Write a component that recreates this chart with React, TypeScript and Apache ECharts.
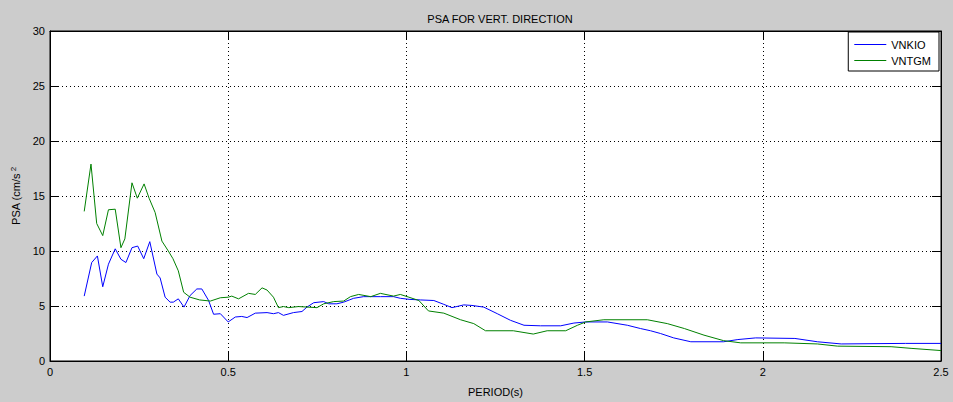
import React, { useEffect, useRef } from "react";
import * as echarts from "echarts";

const titleText = "PSA FOR VERT. DIRECTION";
const xAxisName = "PERIOD(s)";
const seriesNames = ["VNKIO", "VNTGM"];
const xTicks = { min: 0, max: 2.5, interval: 0.5 };
const yTicks = { min: 0, max: 30, interval: 5 };

const vnkioPeriod = [
  0.096, 0.117, 0.133, 0.148, 0.164, 0.183, 0.199, 0.213, 0.23, 0.246, 0.263, 0.28, 0.3, 0.309,
  0.323, 0.337, 0.346, 0.36, 0.376, 0.393, 0.412, 0.426, 0.445, 0.459, 0.478, 0.5, 0.52, 0.538,
  0.553, 0.576, 0.609, 0.627, 0.641, 0.655, 0.683, 0.707, 0.721, 0.74, 0.768, 0.782, 0.805, 0.824,
  0.852, 0.88, 0.927, 0.964, 0.983, 1.01, 1.04, 1.077, 1.105, 1.128, 1.161, 1.184, 1.217, 1.255,
  1.292, 1.33, 1.376, 1.433, 1.47, 1.503, 1.564, 1.62, 1.657, 1.685, 1.713, 1.75, 1.798, 1.89,
  1.93, 1.98, 2.09, 2.153, 2.22, 2.4, 2.5,
];
const vnkioPsa = [
  5.9, 8.95, 9.55, 6.75, 8.8, 10.2, 9.25, 8.95, 10.3, 10.45, 9.3, 10.85, 7.9, 7.55,
  5.8, 5.35, 5.35, 5.65, 4.9, 5.95, 6.55, 6.55, 5.5, 4.25, 4.3, 3.55, 4.0, 4.05,
  3.95, 4.35, 4.4, 4.3, 4.4, 4.15, 4.4, 4.5, 4.9, 5.3, 5.4, 5.2, 5.2, 5.35,
  5.7, 5.85, 5.85, 5.85, 5.7, 5.6, 5.55, 5.5, 5.15, 4.85, 5.1, 5.05, 4.9, 4.3,
  3.7, 3.25, 3.2, 3.2, 3.45, 3.55, 3.55, 3.25, 2.95, 2.75, 2.5, 2.1, 1.75, 1.75,
  1.95, 2.1, 2.05, 1.75, 1.55, 1.6, 1.6,
];

const vntgmPeriod = [
  0.096, 0.115, 0.131, 0.148, 0.164, 0.183, 0.199, 0.21, 0.23, 0.245, 0.264, 0.278, 0.295, 0.314,
  0.332, 0.345, 0.36, 0.375, 0.393, 0.42, 0.45, 0.478, 0.5, 0.51, 0.529, 0.557, 0.576, 0.595,
  0.609, 0.627, 0.641, 0.655, 0.67, 0.697, 0.749, 0.768, 0.796, 0.824, 0.843, 0.866, 0.9, 0.927,
  0.964, 0.983, 1.007, 1.035, 1.062, 1.105, 1.152, 1.189, 1.222, 1.3, 1.356, 1.395, 1.447, 1.48,
  1.503, 1.554, 1.676, 1.732, 1.78, 1.835, 1.89, 1.938, 2.06, 2.153, 2.21, 2.36, 2.416, 2.5,
];
const vntgmPsa = [
  13.6, 17.9, 12.5, 11.4, 13.75, 13.8, 10.3, 11.1, 16.2, 14.8, 16.1, 14.8, 13.5, 10.9,
  10.0, 9.3, 8.2, 6.25, 5.8, 5.55, 5.45, 5.75, 5.8, 5.9, 5.65, 6.15, 6.05, 6.65,
  6.45, 5.8, 4.85, 4.95, 4.85, 4.95, 4.85, 5.2, 5.4, 5.45, 5.85, 6.05, 5.85, 6.15,
  5.9, 6.05, 5.8, 5.5, 4.55, 4.35, 3.75, 3.4, 2.75, 2.75, 2.45, 2.75, 2.75, 3.25,
  3.55, 3.75, 3.75, 3.4, 2.95, 2.35, 1.85, 1.65, 1.65, 1.55, 1.35, 1.3, 1.15, 0.95,
];

const FONT = "Liberation Sans";
const LINE_ICON = "path://M0,0L32,0L32,1L0,1Z";

export default function App() {
  const ref = useRef<HTMLDivElement>(null);
  useEffect(() => {
    if (!ref.current) return;
    const chart = echarts.init(ref.current, undefined, { renderer: "svg" });
    const tickStyle = { inside: true, length: 9, lineStyle: { color: "#000", width: 1 } };
    const axisLine = { show: true, onZero: false, lineStyle: { color: "#000", width: 1 } };
    const grid = { type: [1, 3] as any, color: "#000", width: 1 };
    chart.setOption({
      animation: false,
      backgroundColor: "#cccccc",
      title: {
        text: titleText,
        left: 495,
        top: 8,
        textAlign: "center",
        textStyle: { fontFamily: FONT, fontSize: 11, fontWeight: "normal", color: "#000" },
      },
      legend: {
        data: seriesNames.map((n) => ({ name: n, icon: LINE_ICON })),
        orient: "vertical",
        right: 14,
        top: 32,
        backgroundColor: "#fff",
        borderColor: "#000",
        borderWidth: 1,
        borderRadius: 0,
        padding: [7, 8, 5, 6],
        itemWidth: 32,
        itemHeight: 14,
        itemGap: 5,
        symbolKeepAspect: true,
        itemStyle: { borderWidth: 0 },
        textStyle: { fontFamily: FONT, fontSize: 11, color: "#000" },
      },
      grid: { left: 50, right: 12, top: 31, bottom: 41, show: true, backgroundColor: "#fff", borderColor: "#000", borderWidth: 1 },
      xAxis: [
        {
          type: "value",
          ...xTicks,
          position: "bottom",
          name: xAxisName,
          nameLocation: "middle",
          nameGap: 25,
          nameTextStyle: { fontFamily: FONT, fontSize: 11, color: "#000" },
          axisLine,
          axisTick: tickStyle,
          axisLabel: { fontFamily: FONT, fontSize: 11, color: "#000", margin: 5 },
          splitLine: { show: true, lineStyle: grid },
        },
        {
          type: "value",
          ...xTicks,
          position: "top",
          axisLine,
          axisTick: tickStyle,
          axisLabel: { show: false },
          splitLine: { show: false },
        },
      ],
      yAxis: [
        {
          type: "value",
          ...yTicks,
          position: "left",
          name: "PSA (cm/s{sup|2}",
          nameLocation: "middle",
          nameGap: 27,
          nameTextStyle: {
            fontFamily: FONT,
            fontSize: 11,
            color: "#000",
            rich: { sup: { fontFamily: FONT, fontSize: 8, color: "#000", verticalAlign: "top", padding: [0, 0, 6, 2] } },
          },
          axisLine,
          axisTick: tickStyle,
          axisLabel: { fontFamily: FONT, fontSize: 11, color: "#000", margin: 5 },
          splitLine: { show: true, lineStyle: grid },
        },
        {
          type: "value",
          ...yTicks,
          position: "right",
          axisLine,
          axisTick: tickStyle,
          axisLabel: { show: false },
          splitLine: { show: false },
        },
      ],
      series: [
        {
          name: seriesNames[0],
          type: "line",
          symbol: "none",
          data: vnkioPeriod.map((p, i) => [p, vnkioPsa[i]]),
          lineStyle: { color: "#0000ff", width: 1 },
          itemStyle: { color: "#0000ff" },
        },
        {
          name: seriesNames[1],
          type: "line",
          symbol: "none",
          data: vntgmPeriod.map((p, i) => [p, vntgmPsa[i]]),
          lineStyle: { color: "#008000", width: 1 },
          itemStyle: { color: "#008000" },
        },
      ],
    });
    return () => chart.dispose();
  }, []);
  return <div ref={ref} style={{ width: 953, height: 402, position: "absolute", left: 0, top: 0 }} />;
}
